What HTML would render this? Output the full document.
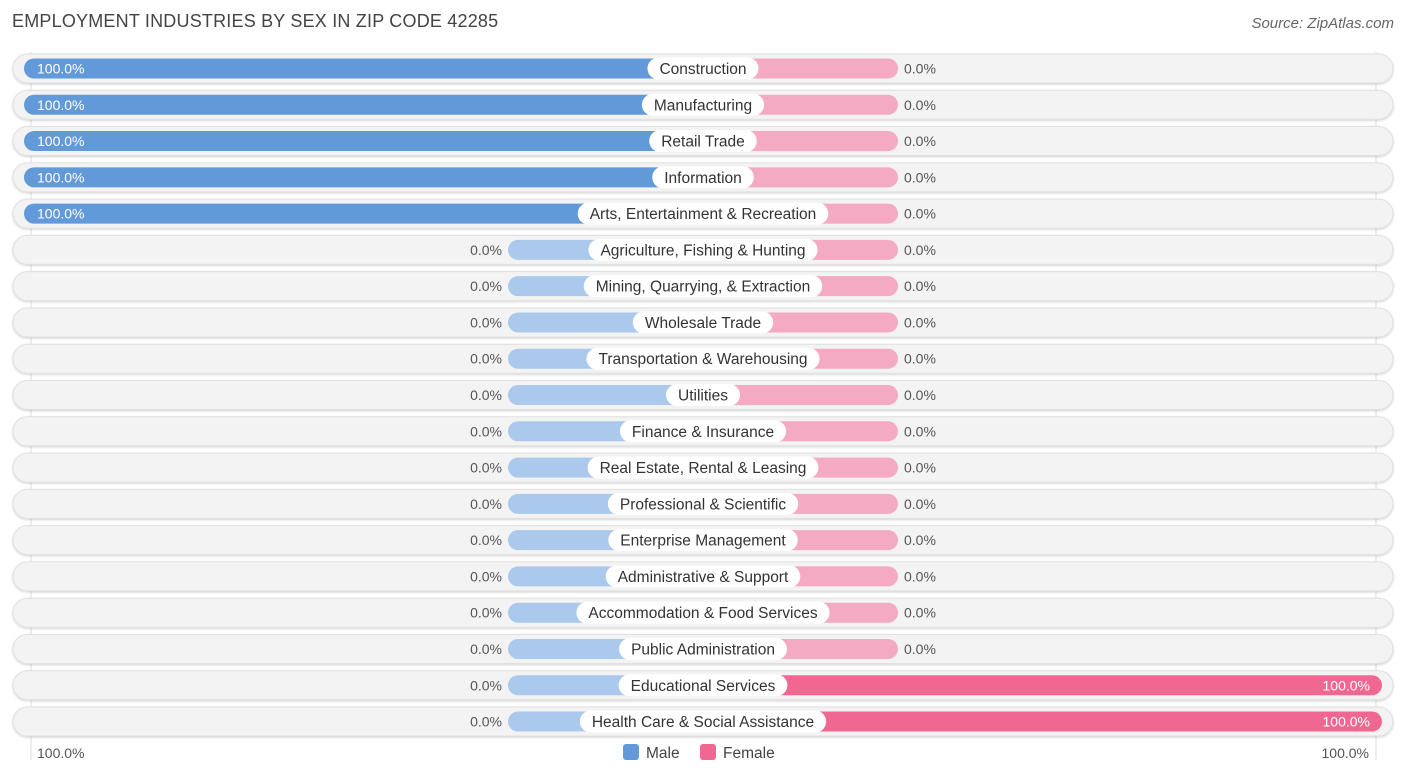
<!DOCTYPE html>
<html><head><meta charset="utf-8">
<style>
body{margin:0;width:1406px;height:776px;background:#fff;font-family:"Liberation Sans",Roboto,sans-serif;position:relative;overflow:hidden}
.t{position:absolute;white-space:nowrap}
</style></head><body>
<div class="t" style="left:12px;top:11px;font-size:18px;color:#444;letter-spacing:0.2px">EMPLOYMENT INDUSTRIES BY SEX IN ZIP CODE 42285</div>
<div class="t" style="right:12px;top:15px;font-size:15px;color:#666;font-style:italic">Source: ZipAtlas.com</div>
<svg id="chart" width="1406" height="776" style="position:absolute;left:0;top:0"></svg>
<script>
const categories=["Construction","Manufacturing","Retail Trade","Information","Arts, Entertainment & Recreation","Agriculture, Fishing & Hunting","Mining, Quarrying, & Extraction","Wholesale Trade","Transportation & Warehousing","Utilities","Finance & Insurance","Real Estate, Rental & Leasing","Professional & Scientific","Enterprise Management","Administrative & Support","Accommodation & Food Services","Public Administration","Educational Services","Health Care & Social Assistance"];
const maleValues=[100,100,100,100,100,0,0,0,0,0,0,0,0,0,0,0,0,0,0];
const femaleValues=[0,0,0,0,0,0,0,0,0,0,0,0,0,0,0,0,0,100,100];
const axisLabels=["100.0%","100.0%"];
const svg=document.getElementById('chart');
const NS='http://www.w3.org/2000/svg';
const cx=703, halfW=679, stub=195, y0=68.5, step=36.28;
function xs(v){return v/100*halfW;}
function yc(i){return y0+i*step;}
function mk(tag,attrs,parent){const e=document.createElementNS(NS,tag);for(const k in attrs)e.setAttribute(k,attrs[k]);(parent||svg).appendChild(e);return e;}
const defs=mk('defs',{});
const f=mk('filter',{id:'sh',x:'-5%',y:'-50%',width:'110%',height:'200%'},defs);
mk('feDropShadow',{dx:'0',dy:'1',stdDeviation:'1',"flood-color":'#000',"flood-opacity":'0.18'},f);
const gl=mk('line',{x1:31,y1:52,x2:31,y2:760,stroke:'#ddd','stroke-width':1});


const gr=mk('line',{x1:1376,y1:52,x2:1376,y2:760,stroke:'#ddd','stroke-width':1});


categories.forEach((c,i)=>{
  const y=yc(i);
  const g=mk('g',{});
  
  
  const bg=mk('rect',{x:13,y:y-14.5,width:1380,height:29,rx:14.5,fill:'#f3f3f3',stroke:'#e0e0e0','stroke-width':1,filter:'url(#sh)'},g);
  
  
  const m=maleValues[i], fv=femaleValues[i];
  const mw=Math.max(xs(m),stub), fw=Math.max(xs(fv),stub);
  const mb=mk('rect',{x:cx-mw,y:y-10,width:mw,height:20,rx:10,fill:m>0?'#6199d9':'#abc9ec'},g);
  
  
  const fb=mk('rect',{x:cx,y:y-10,width:fw,height:20,rx:10,fill:fv>0?'#f06892':'#f5aac3'},g);
  
  
  const ml=mk('text',{y:y+5,'font-size':14,'font-family':'Liberation Sans, sans-serif'},g);
  ml.textContent=m.toFixed(1)+'%';
  if(m>50){ml.setAttribute('x',cx-mw+13);ml.setAttribute('fill','#fff');}
  else{ml.setAttribute('x',cx-mw-6);ml.setAttribute('text-anchor','end');ml.setAttribute('fill','#555');}
  
  
  const fl=mk('text',{y:y+5,'font-size':14,'font-family':'Liberation Sans, sans-serif'},g);
  fl.textContent=fv.toFixed(1)+'%';
  if(fv>50){fl.setAttribute('x',cx+fw-12);fl.setAttribute('text-anchor','end');fl.setAttribute('fill','#fff');}
  else{fl.setAttribute('x',cx+fw+6);fl.setAttribute('fill','#555');}
  
  
  const lt=mk('text',{x:cx,y:y+5.5,'text-anchor':'middle','font-size':15.5,fill:'#333','font-family':'Liberation Sans, sans-serif'},g);
  lt.textContent=c;
  const w=lt.getComputedTextLength()+24;
  const pill=mk('rect',{x:cx-w/2,y:y-11,width:w,height:22,rx:11,fill:'#fff'},g);
  g.insertBefore(pill,lt);
  
  
  
  
});
const al=mk('text',{x:37,y:758,'font-size':14,fill:'#555','font-family':'Liberation Sans, sans-serif'});
al.textContent=axisLabels[0];


const ar=mk('text',{x:1369,y:758,'text-anchor':'end','font-size':14,fill:'#555','font-family':'Liberation Sans, sans-serif'});
ar.textContent=axisLabels[1];


const lm=mk('rect',{x:623,y:744,width:16,height:16,rx:3,fill:'#6199d9'});


const lmt=mk('text',{x:646,y:758,'font-size':15.5,fill:'#444','font-family':'Liberation Sans, sans-serif'});
lmt.textContent='Male';


const lf=mk('rect',{x:700,y:744,width:16,height:16,rx:3,fill:'#f06892'});


const lft=mk('text',{x:723,y:758,'font-size':15.5,fill:'#444','font-family':'Liberation Sans, sans-serif'});
lft.textContent='Female';


</script>
</body></html>
